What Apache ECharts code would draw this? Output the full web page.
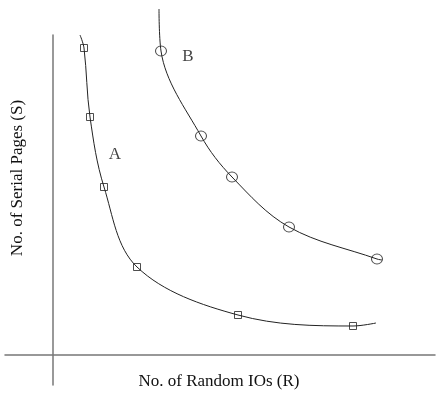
<!DOCTYPE html>
<html>
<head>
<meta charset="utf-8">
<script src="https://cdn.jsdelivr.net/npm/echarts@6/dist/echarts.min.js"></script>
<style>
  html, body { margin: 0; padding: 0; background: #fff; }
  #chart { width: 440px; height: 394px; }
</style>
</head>
<body>
<div id="chart"></div>
<script>
// curve A: traced line points (x = random IOs, y = serial pages, arbitrary units)
var curveA = [[27, 320], [31, 307], [37, 238], [51, 168], [84, 88], [185, 40], [300, 29], [323, 32]];
var markersA = [[31, 307], [37, 238], [51, 168], [84, 88], [185, 40], [300, 29]];

// curve B
var curveB = [[106, 346], [108, 304], [148, 219], [179, 178], [236, 128], [324, 96], [329, 95]];
var markersB = [[108, 304], [148, 219], [179, 178], [236, 128], [324, 96]];

// curve labels
var labelNames = ['A', 'B'];
var labelPos = [[62, 200], [135, 298]];

// axis titles
var xTitle = 'No. of Random IOs (R)';
var yTitle = 'No. of Serial Pages (S)';

var serif = "'Liberation Serif', 'DejaVu Serif', serif";

var myChart = echarts.init(document.getElementById('chart'));

var option = {
  animation: false,
  grid: { left: 5, right: 5, top: 35, bottom: 9, containLabel: false, outerBoundsMode: 'none' },
  xAxis: {
    type: 'value',
    min: -48,
    max: 382,
    axisLine: { onZero: true, lineStyle: { color: '#777', width: 1.5 } },
    axisTick: { show: false },
    axisLabel: { show: false },
    splitLine: { show: false }
  },
  yAxis: {
    type: 'value',
    min: -30,
    max: 320,
    axisLine: { onZero: true, lineStyle: { color: '#777', width: 1.5 } },
    axisTick: { show: false },
    axisLabel: { show: false },
    splitLine: { show: false }
  },
  // axis titles drawn as text, since the axes sit on zero inside the grid
  graphic: [
    {
      type: 'text',
      x: 219,
      y: 382,
      style: { text: xTitle, font: '17px ' + serif, fill: '#111', align: 'center', verticalAlign: 'middle' }
    },
    {
      type: 'text',
      x: 18,
      y: 178,
      rotation: Math.PI / 2,
      style: { text: yTitle, font: '17px ' + serif, fill: '#111', align: 'center', verticalAlign: 'middle' }
    }
  ],
  series: [
    {
      type: 'line',
      data: curveA,
      smooth: 0.35,
      showSymbol: false,
      clip: false,
      lineStyle: { color: '#222', width: 1 }
    },
    {
      type: 'line',
      data: curveB,
      smooth: 0.35,
      showSymbol: false,
      clip: false,
      lineStyle: { color: '#222', width: 1 }
    },
    {
      type: 'scatter',
      data: markersA,
      symbol: 'rect',
      symbolSize: 7,
      itemStyle: { color: 'transparent', borderColor: '#222', borderWidth: 1 }
    },
    {
      type: 'scatter',
      data: markersB,
      symbol: 'circle',
      symbolSize: [11, 10],
      itemStyle: { color: 'transparent', borderColor: '#222', borderWidth: 1 }
    },
    {
      type: 'scatter',
      data: labelPos.map(function (p, i) { return { name: labelNames[i], value: p }; }),
      symbolSize: 0,
      label: {
        show: true,
        position: 'inside',
        formatter: '{b}',
        fontFamily: serif,
        fontSize: 17,
        color: '#111'
      }
    }
  ]
};

myChart.setOption(option);
</script>
</body>
</html>
